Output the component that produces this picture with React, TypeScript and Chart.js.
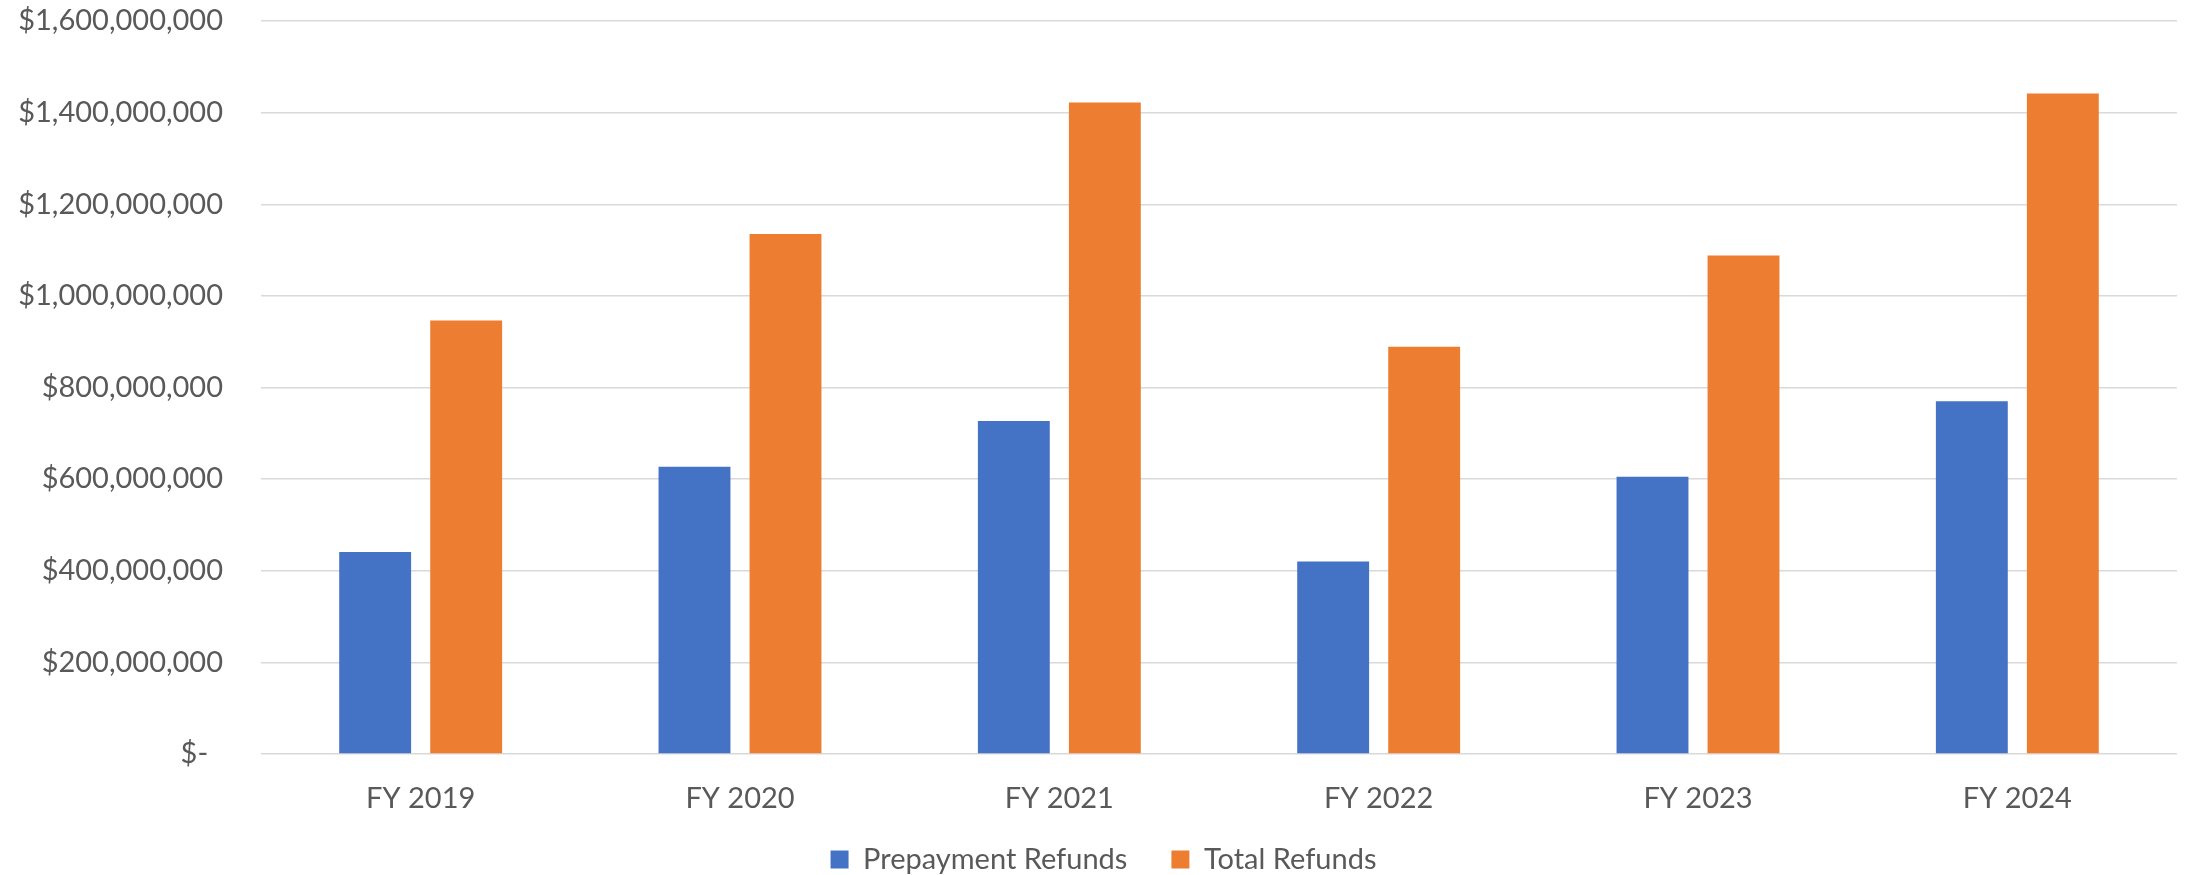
import React, { useEffect, useRef } from "react";
import { Chart, registerables } from "chart.js";

Chart.register(...registerables);

const categories = ["FY 2019", "FY 2020", "FY 2021", "FY 2022", "FY 2023", "FY 2024"];
const prepaymentRefunds = [441e6, 627e6, 727e6, 420e6, 605e6, 770e6];
const totalRefunds = [946e6, 1135e6, 1422e6, 889e6, 1088e6, 1442e6];
const seriesNames = ["Prepayment Refunds", "Total Refunds"];
const yMin = 0;
const yMax = 1.6e9;
const yStep = 2e8;

const TEXT = "#595959";
const GRID = "#D9D9D9";
const FONT = "Lato";
const FS = 29;
const PAD_LEFT = 30;

function formatMoney(v: number): string {
  if (v === 0) return "$-  ";
  return "$" + Math.round(v).toLocaleString("en-US");
}

export default function App() {
  const ref = useRef<HTMLCanvasElement | null>(null);

  useEffect(() => {
    if (!ref.current) return;
    const chart = new Chart(ref.current, {
      type: "bar",
      data: {
        labels: categories,
        datasets: [
          {
            label: seriesNames[0],
            data: prepaymentRefunds,
            backgroundColor: "#4472C4",
            borderWidth: 0,
            categoryPercentage: 0.57,
            barPercentage: 0.79,
          },
          {
            label: seriesNames[1],
            data: totalRefunds,
            backgroundColor: "#ED7D31",
            borderWidth: 0,
            categoryPercentage: 0.57,
            barPercentage: 0.79,
          },
        ],
      },
      options: {
        responsive: false,
        animation: false,
        devicePixelRatio: 1,
        layout: { padding: { top: 21, right: 11, left: PAD_LEFT, bottom: 0 } },
        plugins: {
          tooltip: { enabled: false },
          legend: {
            position: "bottom",
            labels: {
              color: TEXT,
              font: { family: FONT, size: FS },
              boxWidth: 18,
              boxHeight: 18,
              padding: 44,
            },
          },
        },
        scales: {
          x: {
            grid: { display: false, drawTicks: false },
            border: { display: false },
            ticks: {
              color: TEXT,
              font: { family: FONT, size: FS },
              padding: 27,
              maxRotation: 0,
            },
            afterFit: (scale: any) => {
              scale.height = 47;
              scale.paddingLeft = 0;
              scale.paddingRight = 0;
              scale._computeLabelArea = () => undefined;
            },
          },
          y: {
            min: yMin,
            max: yMax,
            grid: { color: GRID, lineWidth: 1.5, drawTicks: false },
            border: { display: false },
            ticks: {
              stepSize: yStep,
              color: TEXT,
              font: { family: FONT, size: FS },
              padding: 38,
              callback: (v: any) => formatMoney(Number(v)),
            },
            afterFit: (scale: any) => {
              scale.width = 261 - PAD_LEFT;
              scale.paddingTop = 0;
              scale.paddingBottom = 0;
              scale._computeLabelArea = () => undefined;
            },
          },
        },
      },
    });
    return () => chart.destroy();
  }, []);

  return (
    <div style={{ position: "absolute", left: 0, top: 0, width: 2188, height: 875, overflow: "hidden", background: "#fff" }}>
      <canvas ref={ref} width={2188} height={884} style={{ width: 2188, height: 884, display: "block" }} />
    </div>
  );
}
